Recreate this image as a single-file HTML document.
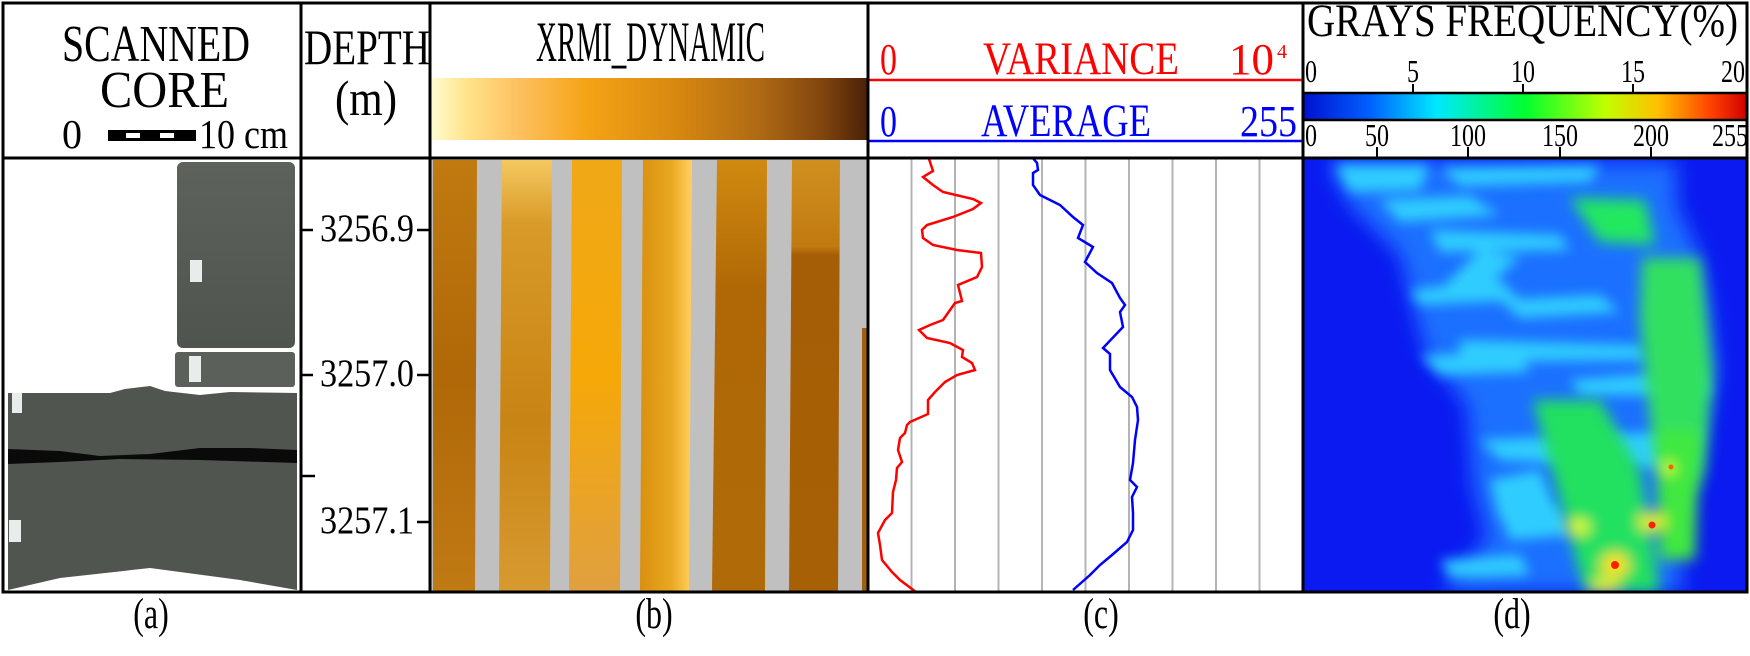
<!DOCTYPE html>
<html><head><meta charset="utf-8"><style>
html,body{margin:0;padding:0;background:#fff;width:1750px;height:656px;overflow:hidden}
svg{display:block}
</style></head><body>
<svg width="1750" height="656" viewBox="0 0 1750 656" xmlns="http://www.w3.org/2000/svg" font-family="'Liberation Serif','DejaVu Serif','Times New Roman',serif">
<defs>
<linearGradient id="xg" x1="0" x2="1" y1="0" y2="0">
<stop offset="0" stop-color="#fffbd0"/><stop offset="0.08" stop-color="#ffe38a"/><stop offset="0.2" stop-color="#fdc060"/><stop offset="0.35" stop-color="#f5a416"/><stop offset="0.55" stop-color="#d98a10"/><stop offset="0.75" stop-color="#b06a14"/><stop offset="0.9" stop-color="#80440e"/><stop offset="1" stop-color="#4a2208"/>
</linearGradient>
<linearGradient id="jet" x1="0" x2="1" y1="0" y2="0">
<stop offset="0" stop-color="#0010d0"/><stop offset="0.15" stop-color="#0060ff"/><stop offset="0.3" stop-color="#00e8ff"/><stop offset="0.5" stop-color="#00ff30"/><stop offset="0.68" stop-color="#c0ff00"/><stop offset="0.8" stop-color="#ffc000"/><stop offset="0.92" stop-color="#ff4000"/><stop offset="1" stop-color="#d00000"/>
</linearGradient>
<filter id="bl" x="-20%" y="-20%" width="140%" height="140%"><feGaussianBlur stdDeviation="10"/></filter>
<filter id="bl3" x="-30%" y="-30%" width="160%" height="160%"><feGaussianBlur stdDeviation="6"/></filter>
<filter id="bl2" x="-50%" y="-50%" width="200%" height="200%"><feGaussianBlur stdDeviation="7"/></filter>
<clipPath id="cd"><rect x="1303" y="159" width="444" height="433"/></clipPath>
<linearGradient id="core" x1="0" x2="0" y1="0" y2="1"><stop offset="0" stop-color="#5e625c"/><stop offset="1" stop-color="#50544f"/></linearGradient>
<linearGradient id="s1" x1="0" x2="0" y1="0" y2="1"><stop offset="0" stop-color="#c07a10"/><stop offset="0.5" stop-color="#b06808"/><stop offset="1" stop-color="#c07a14"/></linearGradient>
<linearGradient id="s2" x1="0" x2="0" y1="0" y2="1"><stop offset="0" stop-color="#f4c860"/><stop offset="0.15" stop-color="#d89a28"/><stop offset="0.6" stop-color="#c88414"/><stop offset="1" stop-color="#d89a30"/></linearGradient>
<linearGradient id="s3" x1="0" x2="0" y1="0" y2="1"><stop offset="0" stop-color="#f0a818"/><stop offset="0.5" stop-color="#f5a808"/><stop offset="1" stop-color="#e0a040"/></linearGradient>
<linearGradient id="s4" x1="0" x2="1" y1="0" y2="0"><stop offset="0" stop-color="#d89010"/><stop offset="0.6" stop-color="#eaa820"/><stop offset="1" stop-color="#ffd060"/></linearGradient>
<linearGradient id="s5" x1="0" x2="0" y1="0" y2="1"><stop offset="0" stop-color="#d08a10"/><stop offset="0.3" stop-color="#b06806"/><stop offset="1" stop-color="#b06a08"/></linearGradient>
<linearGradient id="s6" x1="0" x2="0" y1="0" y2="1"><stop offset="0" stop-color="#d09020"/><stop offset="0.2" stop-color="#c07a10"/><stop offset="0.22" stop-color="#a65e06"/><stop offset="1" stop-color="#a86006"/></linearGradient>
</defs>

<!-- Panel a: core -->
<rect x="177" y="162" width="118" height="186" rx="6" fill="url(#core)"/>
<rect x="175" y="352" width="120" height="35" rx="3" fill="#5c605a"/>
<path d="M8 393 L110 393 L125 389 L150 386 L165 391 L200 395 L230 392 L297 393 L297 590 L240 580 L150 568 L60 578 L8 590 Z" fill="#51554f"/>
<path d="M8 449 L60 451 L100 456 L150 454 L200 448 L250 448 L297 450 L297 463 L200 460 L120 459 L60 462 L8 464 Z" fill="#0a0a0a"/>
<rect x="190" y="260" width="12" height="22" fill="#e8ecea"/>
<rect x="189" y="356" width="12" height="26" fill="#e8ecea"/>
<rect x="12" y="393" width="10" height="20" fill="#e8ecea"/>
<rect x="9" y="520" width="12" height="22" fill="#e8ecea"/>

<!-- Panel b -->
<rect x="432" y="78" width="435" height="62" fill="url(#xg)"/>
<rect x="431" y="159" width="437" height="433" fill="#c0c0c0"/>
<polygon points="433,160 477,160 475,592 433,592" fill="url(#s1)"/>
<polygon points="502,160 552,160 550,592 499,592" fill="url(#s2)"/>
<polygon points="572,160 622,160 620,592 569,592" fill="url(#s3)"/>
<polygon points="643,160 692,160 689,592 640,592" fill="url(#s4)"/>
<polygon points="717,160 767,160 765,592 712,592" fill="url(#s5)"/>
<polygon points="792,160 840,160 838,592 789,592" fill="url(#s6)"/>
<rect x="862" y="328" width="5" height="264" fill="#a06010"/>

<!-- Panel c -->
<g stroke="#b4b4b4" stroke-width="2">
<line x1="911.5" y1="159" x2="911.5" y2="592"/><line x1="955" y1="159" x2="955" y2="592"/><line x1="998.5" y1="159" x2="998.5" y2="592"/><line x1="1042" y1="159" x2="1042" y2="592"/><line x1="1085.5" y1="159" x2="1085.5" y2="592"/><line x1="1129" y1="159" x2="1129" y2="592"/><line x1="1172.5" y1="159" x2="1172.5" y2="592"/><line x1="1216" y1="159" x2="1216" y2="592"/><line x1="1259.5" y1="159" x2="1259.5" y2="592"/>
</g>
<polyline fill="none" stroke="#ff0000" stroke-width="2.5" points="929,159 933,171 923,177 933,185 943,192 973,199 981,203 973,209 953,217 927,225 922,230 923,238 933,245 957,250 981,253 982,267 977,277 958,285 962,301 955,303 943,320 930,325 919,330 927,338 950,343 963,350 962,357 972,363 975,370 957,375 945,382 935,392 928,400 928,414 910,422 907,425 905,433 900,438 898,450 902,462 897,468 896,480 893,492 892,513 885,520 878,533 880,545 882,560 892,572 900,580 916,592"/>
<polyline fill="none" stroke="#0000ff" stroke-width="2.5" points="1032,157 1037,163 1038,170 1033,173 1033,185 1040,195 1060,205 1073,217 1083,225 1078,238 1093,247 1085,262 1097,273 1112,283 1120,298 1125,305 1120,312 1123,327 1103,348 1110,354 1110,370 1120,387 1132,397 1137,407 1138,420 1135,440 1133,463 1130,480 1137,487 1132,497 1133,513 1133,530 1127,542 1112,555 1100,565 1090,575 1073,590"/>
<line x1="868" y1="80" x2="1303" y2="80" stroke="#ff0000" stroke-width="2.5"/>
<line x1="868" y1="141" x2="1303" y2="141" stroke="#0000ff" stroke-width="2.5"/>

<!-- Panel d heatmap -->
<g clip-path="url(#cd)">
<rect x="1303" y="159" width="444" height="433" fill="#0a1af0"/>
<g filter="url(#bl)">
<polygon points="1327,162 1350,205 1400,255 1417,322 1427,355 1467,405 1473,488 1487,538 1440,592 1683,592 1677,522 1700,455 1717,372 1710,305 1700,255 1677,205 1677,162" fill="#1a70ff"/>
</g>
<g filter="url(#bl3)" fill="#30d8ff" opacity="0.9">
<polygon points="1335,165 1430,165 1420,190 1350,192"/>
<polygon points="1440,168 1600,166 1590,182 1460,186"/>
<polygon points="1380,200 1470,196 1500,215 1400,222"/>
<polygon points="1430,230 1560,235 1570,250 1440,252"/>
<polygon points="1480,250 1520,258 1470,300 1440,290"/>
<polygon points="1410,290 1500,280 1520,300 1420,305"/>
<polygon points="1500,300 1600,295 1620,312 1520,318"/>
<polygon points="1460,340 1640,345 1650,360 1460,362"/>
<polygon points="1420,355 1520,352 1530,372 1440,375"/>
<polygon points="1570,380 1700,370 1710,395 1580,395"/>
<polygon points="1480,440 1700,430 1690,470 1500,460"/>
<polygon points="1490,480 1540,470 1560,520 1500,520"/>
<polygon points="1440,560 1520,555 1530,575 1450,578"/>
<polygon points="1500,510 1560,505 1570,535 1510,540"/>
</g>
<g filter="url(#bl2)">
<polygon points="1570,198 1645,200 1655,245 1600,242" fill="#20e860"/>
<polygon points="1642,258 1700,258 1712,372 1705,470 1690,520 1662,520 1650,420 1640,320" fill="#30e060"/>
<polygon points="1533,400 1600,400 1640,470 1660,592 1585,592 1560,500" fill="#20e060"/>
<polygon points="1655,430 1700,430 1695,560 1660,560" fill="#40e840"/>
<ellipse cx="1578" cy="527" rx="12" ry="7" fill="#f0ff20"/>
<ellipse cx="1652" cy="522" rx="14" ry="9" fill="#f0f020"/>
<ellipse cx="1615" cy="565" rx="14" ry="12" fill="#ffe010"/>
<ellipse cx="1605" cy="586" rx="14" ry="7" fill="#f0f020"/>
<ellipse cx="1668" cy="468" rx="7" ry="6" fill="#e8ff30"/>
</g>
<circle cx="1615" cy="565" r="4" fill="#ff2000"/>
<circle cx="1652" cy="525" r="3.5" fill="#ff2000"/>
<circle cx="1671" cy="467" r="2.5" fill="#ff6000"/>
</g>
<rect x="1303" y="93" width="444" height="27" fill="url(#jet)" stroke="#000" stroke-width="2.5"/>
<g stroke="#000" stroke-width="2">
<line x1="1413" y1="84" x2="1413" y2="93"/><line x1="1523" y1="84" x2="1523" y2="93"/><line x1="1633" y1="84" x2="1633" y2="93"/>
<line x1="1377" y1="147" x2="1377" y2="157"/><line x1="1468" y1="147" x2="1468" y2="157"/><line x1="1560" y1="147" x2="1560" y2="157"/><line x1="1651" y1="147" x2="1651" y2="157"/>
</g>

<!-- frame -->
<g stroke="#000" stroke-width="3" fill="none">
<rect x="3" y="3" width="1744" height="589"/>
<line x1="3" y1="158" x2="1747" y2="158"/>
<line x1="301" y1="3" x2="301" y2="592"/>
<line x1="430" y1="3" x2="430" y2="592"/>
<line x1="868" y1="3" x2="868" y2="592"/>
<line x1="1303" y1="3" x2="1303" y2="592"/>
</g>
<g stroke="#000" stroke-width="2.5">
<line x1="301" y1="230" x2="313" y2="230"/><line x1="417" y1="230" x2="430" y2="230"/>
<line x1="301" y1="375" x2="313" y2="375"/><line x1="417" y1="375" x2="430" y2="375"/>
<line x1="301" y1="476" x2="315" y2="476"/>
<line x1="417" y1="522" x2="430" y2="522"/>
</g>

<!-- scale bar -->
<rect x="108" y="130" width="88" height="11" fill="#000"/>
<rect x="126" y="133" width="14" height="5" fill="#fff"/>
<rect x="160" y="133" width="14" height="5" fill="#fff"/>

<!-- text -->
<g fill="#000">
<text transform="translate(62,61) scale(1,1.3)" font-size="40" textLength="188" lengthAdjust="spacingAndGlyphs">SCANNED</text>
<text transform="translate(100,107) scale(1,1.3)" font-size="40" textLength="129" lengthAdjust="spacingAndGlyphs">CORE</text>
<text transform="translate(62,148) scale(1,1.3)" font-size="32" textLength="20" lengthAdjust="spacingAndGlyphs">0</text>
<text transform="translate(199,148) scale(1,1.3)" font-size="32" textLength="89" lengthAdjust="spacingAndGlyphs">10 cm</text>
<text transform="translate(304,64) scale(1,1.3)" font-size="38" textLength="126" lengthAdjust="spacingAndGlyphs">DEPTH</text>
<text transform="translate(335,115) scale(1,1.3)" font-size="38" textLength="62" lengthAdjust="spacingAndGlyphs">(m)</text>
<text transform="translate(536,61) scale(1,1.6)" font-size="36" textLength="229" lengthAdjust="spacingAndGlyphs">XRMI_DYNAMIC</text>
<text transform="translate(1307,36) scale(1,1.3)" font-size="36" textLength="431" lengthAdjust="spacingAndGlyphs">GRAYS FREQUENCY(%)</text>
<text transform="translate(320,241) scale(1,1.3)" font-size="30" textLength="94" lengthAdjust="spacingAndGlyphs">3256.9</text>
<text transform="translate(320,386) scale(1,1.3)" font-size="30" textLength="94" lengthAdjust="spacingAndGlyphs">3257.0</text>
<text transform="translate(320,533) scale(1,1.3)" font-size="30" textLength="94" lengthAdjust="spacingAndGlyphs">3257.1</text>
<g font-size="24">
<text transform="translate(1305,82) scale(1,1.3)">0</text><text transform="translate(1407,82) scale(1,1.3)">5</text><text transform="translate(1511,82) scale(1,1.3)">10</text><text transform="translate(1621,82) scale(1,1.3)">15</text><text transform="translate(1721,82) scale(1,1.3)">20</text>
<text transform="translate(1305,146) scale(1,1.3)">0</text><text transform="translate(1365,146) scale(1,1.3)">50</text><text transform="translate(1450,146) scale(1,1.3)">100</text><text transform="translate(1542,146) scale(1,1.3)">150</text><text transform="translate(1633,146) scale(1,1.3)">200</text><text transform="translate(1712,146) scale(1,1.3)">255</text>
</g>
<g font-size="32" text-anchor="middle">
<text transform="translate(151,628) scale(1,1.35)">(a)</text><text transform="translate(654,628) scale(1,1.35)">(b)</text><text transform="translate(1101,628) scale(1,1.35)">(c)</text><text transform="translate(1512,628) scale(1,1.35)">(d)</text>
</g>
</g>
<g fill="#ff0000">
<text transform="translate(880,74) scale(1,1.3)" font-size="34">0</text>
<text transform="translate(983,74) scale(1,1.3)" font-size="36" textLength="196" lengthAdjust="spacingAndGlyphs">VARIANCE</text>
<text transform="translate(1229,74) scale(1,1.3)" font-size="34" textLength="45" lengthAdjust="spacingAndGlyphs">10</text>
<text x="1277" y="58" font-size="20">4</text>
</g>
<g fill="#0000ff">
<text transform="translate(880,136) scale(1,1.3)" font-size="34">0</text>
<text transform="translate(981,136) scale(1,1.3)" font-size="36" textLength="170" lengthAdjust="spacingAndGlyphs">AVERAGE</text>
<text transform="translate(1240,136) scale(1,1.3)" font-size="34" textLength="57" lengthAdjust="spacingAndGlyphs">255</text>
</g>
</svg>
</body></html>
